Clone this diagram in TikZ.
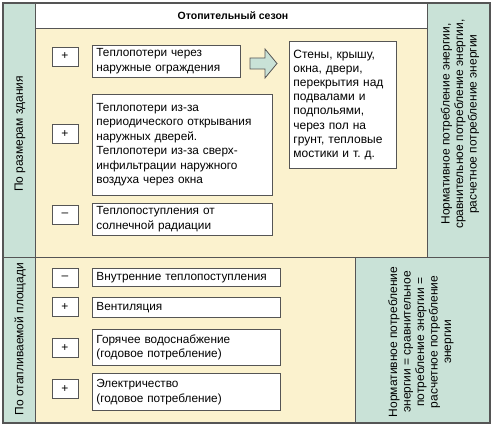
\documentclass[tikz,border=0pt]{standalone}
\usepackage{fontspec}
\setmainfont{Liberation Sans}
\definecolor{sidegreen}{HTML}{C9E2D7}
\definecolor{seasoncream}{HTML}{FBF2CE}
\definecolor{framegray}{HTML}{555555}

\begin{document}
\begin{tikzpicture}[x=1pt, y=-1pt, line join=miter,
    signbox/.style={draw=framegray, fill=white, line width=0.8pt, minimum width=26pt, minimum height=19pt, inner sep=0pt, font=\fontsize{12}{14}\selectfont},
    itembox/.style={draw=framegray, fill=white, line width=0.8pt, anchor=north west, align=left, inner xsep=4pt, inner ysep=0pt, font=\fontsize{11.8}{14.5}\selectfont},
    sidelabel/.style={rotate=90, align=center, font=\fontsize{12}{13.5}\selectfont}]
      \useasboundingbox (0,0) rectangle (496,428);

      \fill[sidegreen] (3,3) rectangle (35,423);
      \fill[white] (35,3) rectangle (427,29);
      \fill[seasoncream] (35,29) rectangle (427,257);
      \fill[sidegreen] (427,3) rectangle (490,257);
      \fill[seasoncream] (35,257) rectangle (355,423);
      \fill[sidegreen] (355,257) rectangle (490,423);

      \draw[framegray, line width=1pt] (35,3) -- (35,423);
      \draw[framegray, line width=1pt] (35,29) -- (427,29);
      \draw[framegray, line width=1pt] (427,3) -- (427,257);
      \draw[framegray, line width=1pt] (3,257) -- (490,257);
      \draw[framegray, line width=1pt] (355,257) -- (355,423);
      \draw[framegray, line width=1.6pt] (3,3) rectangle (490,423);

      \node[font=\bfseries\fontsize{10.5}{12}\selectfont] (season) at (233,16) {Отопительный сезон};

      \node[sidelabel] (bysize) at (20,134) {По размерам здания};
      \node[sidelabel] (byarea) at (20,339) {По отапливаемой площади};

      % upper part
      \node[signbox] (sign1) at (65,56.5) {+};
      \node[itembox, text width=140pt, minimum height=32pt] (loss1) at (92,45) {Теплопотери через\\наружные ограждения};

      \draw[framegray, fill=sidegreen, line width=0.8pt] (250,58) -- (265,58) -- (265,49) -- (277,63.5) -- (265,78) -- (265,69) -- (250,69) -- cycle;

      \node[itembox, text width=99pt, minimum height=127pt, font=\fontsize{12}{14.2}\selectfont] (walls) at (289,41) {Стены, крышу,\\окна, двери,\\перекрытия над\\подвалами и\\подпольями,\\через пол на\\грунт, тепловые\\мостики и т.~д.};

      \node[signbox] (sign2) at (65,134) {+};
      \node[itembox, text width=172pt, minimum height=101pt] (loss2) at (92,94) {Теплопотери из-за\\периодического открывания\\наружных дверей.\\Теплопотери из-за сверх-\\инфильтрации наружного\\воздуха через окна};

      \node[signbox] (sign3) at (65,215) {–};
      \node[itembox, text width=172pt, minimum height=32pt] (gain1) at (92,203) {Теплопоступления от\\солнечной радиации};

      \node[sidelabel] (normsize) at (460,124) {Нормативное потребление энергии,\\сравнительное потребление энергии,\\расчетное потребление энергии};

      % lower part
      \node[signbox] (sign4) at (65,277.5) {–};
      \node[itembox, text width=180pt, minimum height=18pt] (gain2) at (92,268) {Внутренние теплопоступления};

      \node[signbox] (sign5) at (65,307) {+};
      \node[itembox, text width=180pt, minimum height=20pt] (vent) at (92,297) {Вентиляция};

      \node[signbox] (sign6) at (65,348) {+};
      \node[itembox, text width=180pt, minimum height=36pt] (water) at (92,329) {Горячее водоснабжение\\(годовое потребление)};

      \node[signbox] (sign7) at (65,389) {+};
      \node[itembox, text width=180pt, minimum height=37pt] (power) at (92,373) {Электричество\\(годовое потребление)};

      \node[sidelabel] (normarea) at (421,342) {Нормативное потребление\\энергии = сравнительное\\потребление энергии =\\расчетное потребление\\энергии};
    \end{tikzpicture}
\end{document}
